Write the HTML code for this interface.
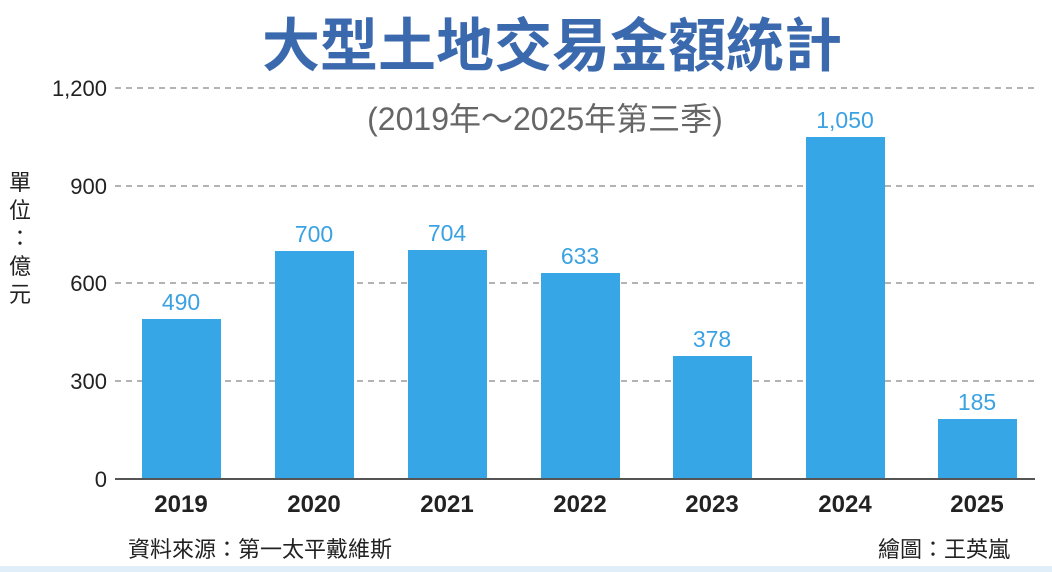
<!DOCTYPE html>
<html><head><meta charset="utf-8"><style>
body{margin:0;background:#fff;}
svg{display:block;}
text{font-family:"Liberation Sans","Noto Sans CJK TC",sans-serif;}
</style></head><body>
<svg width="1052" height="572" viewBox="0 0 1052 572">
<rect width="1052" height="572" fill="#fff"/>
<text x="552" y="66" text-anchor="middle" font-size="58" font-weight="bold" fill="#3b69ae" font-family="Noto Sans CJK TC, sans-serif">大型土地交易金額統計</text>
<text x="545" y="130" text-anchor="middle" font-size="32" fill="#666">(2019年～2025年第三季)</text>
<g stroke="#9a9a9a" stroke-width="1.5" stroke-dasharray="6,5">
<line x1="115" y1="88" x2="1035" y2="88"/>
<line x1="115" y1="186" x2="1035" y2="186"/>
<line x1="115" y1="283" x2="1035" y2="283"/>
<line x1="115" y1="381" x2="1035" y2="381"/>
</g>
<g font-size="22" fill="#222" text-anchor="end">
<text x="107" y="96">1,200</text>
<text x="107" y="194">900</text>
<text x="107" y="291">600</text>
<text x="107" y="389">300</text>
<text x="107" y="487">0</text>
</g>
<g font-size="22" fill="#222" font-family="Noto Sans CJK TC, sans-serif" text-anchor="middle">
<text x="20" y="190">單</text><text x="20" y="218">位</text><text x="20" y="246">：</text><text x="20" y="274">億</text><text x="20" y="302">元</text>
</g>
<g fill="#36a6e6">
<rect x="142" y="319" width="79" height="160"/>
<rect x="275" y="251" width="79" height="228"/>
<rect x="408" y="250" width="79" height="229"/>
<rect x="541" y="273" width="79" height="206"/>
<rect x="673" y="356" width="79" height="123"/>
<rect x="806" y="137" width="79" height="342"/>
<rect x="938" y="419" width="79" height="60"/>
</g>
<line x1="115" y1="479" x2="1035" y2="479" stroke="#555" stroke-width="2"/>
<g font-size="23" fill="#3aa2e2" text-anchor="middle">
<text x="181" y="310">490</text>
<text x="314" y="242">700</text>
<text x="447" y="241">704</text>
<text x="580" y="264">633</text>
<text x="712" y="347">378</text>
<text x="845" y="128">1,050</text>
<text x="977" y="410">185</text>
</g>
<g font-size="24" fill="#222" text-anchor="middle" font-weight="bold">
<text x="181" y="512">2019</text>
<text x="314" y="512">2020</text>
<text x="447" y="512">2021</text>
<text x="580" y="512">2022</text>
<text x="712" y="512">2023</text>
<text x="845" y="512">2024</text>
<text x="977" y="512">2025</text>
</g>
<g font-size="22" fill="#222" font-family="Noto Sans CJK TC, sans-serif">
<text x="128" y="557">資料來源：第一太平戴維斯</text>
<text x="1010" y="557" text-anchor="end">繪圖：王英嵐</text>
</g>
<rect x="0" y="566" width="1052" height="6" fill="#dfeef8"/>
</svg>
</body></html>
